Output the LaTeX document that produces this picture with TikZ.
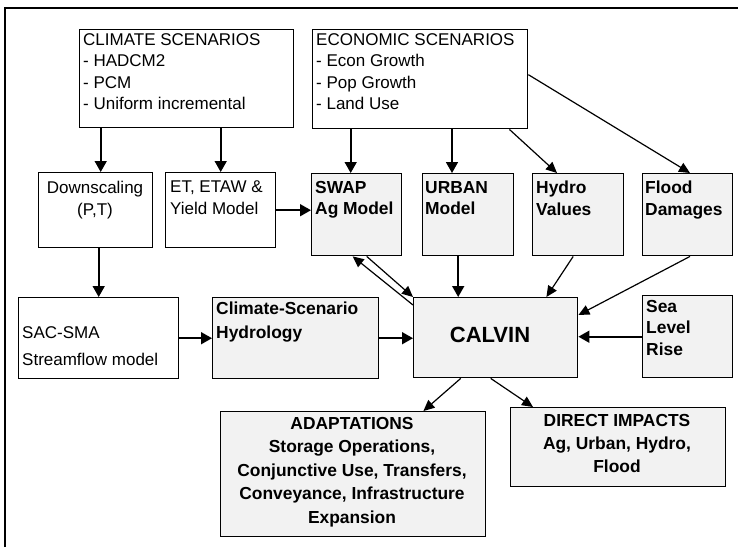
\documentclass[tikz,border=0pt]{standalone}
\usepackage{fontspec}
\setmainfont{Liberation Sans}
\usetikzlibrary{arrows.meta}
\begin{document}
\begin{tikzpicture}[x=1pt,y=-1pt,every node/.style={font=\fontsize{17}{21.5}\selectfont},
  box/.style={draw,line width=1.4pt,anchor=north west,inner sep=0pt},
  boldbox/.style={box,fill=black!5},
  txt/.style={anchor=north west,inner sep=0pt,align=left},
  btxt/.style={txt,font=\fontsize{17.4}{21.5}\selectfont\bfseries},
  arr/.style={-{Triangle[length=11pt,width=12pt]},line width=1.6pt},
  darr/.style={-{Triangle[length=11pt,width=10pt]},line width=1.2pt}]
\useasboundingbox (0,0) rectangle (738,547);
\draw[line width=2pt] (5,547) -- (5,8) -- (738,8);
% boxes
\node[box,minimum width=214,minimum height=98] (climate) at (79,29) {};
\node[box,minimum width=215,minimum height=99] (econ) at (312,29) {};
\node[box,minimum width=114,minimum height=75] (down) at (38,172) {};
\node[box,minimum width=110,minimum height=75] (etaw) at (165,172) {};
\node[boldbox,minimum width=90,minimum height=82] (swap) at (311,173) {};
\node[boldbox,minimum width=91,minimum height=82] (urban) at (422,173) {};
\node[boldbox,minimum width=91,minimum height=82] (hydro) at (532,173) {};
\node[boldbox,minimum width=90,minimum height=82] (flood) at (642,173) {};
\node[box,minimum width=160,minimum height=81] (sacsma) at (18,297) {};
\node[boldbox,minimum width=166,minimum height=81] (hydrol) at (212,297) {};
\node[boldbox,minimum width=164,minimum height=80] (calvin) at (413,297) {};
\node[boldbox,minimum width=90,minimum height=82] (sea) at (642,295) {};
\node[boldbox,minimum width=265,minimum height=125] (adapt) at (220,411) {};
\node[boldbox,minimum width=215,minimum height=79] (direct) at (510,407) {};
% texts
\node[txt] (climatetxt) at (83,33) {CLIMATE SCENARIOS\\- HADCM2\\- PCM\\- Uniform incremental};
\node[txt] (econtxt) at (316,33) {ECONOMIC SCENARIOS\\- Econ Growth\\- Pop Growth\\- Land Use};
\node[txt,anchor=north,align=center] (downtxt) at (95,181) {Downscaling\\(P,T)};
\node[txt] (etawtxt) at (170,181) {ET, ETAW \&\\Yield Model};
\node[btxt] (swaptxt) at (315,181) {SWAP\\Ag Model};
\node[btxt] (urbantxt) at (425,181) {URBAN\\Model};
\node[btxt] (hydrotxt) at (536,181) {Hydro\\Values};
\node[btxt] (floodtxt) at (645,181) {Flood\\Damages};
\node[txt] (sacsmatxt) at (22,326) {SAC-SMA\\[6pt]Streamflow model};
\node[btxt] (hydroltxt) at (216,302) {Climate-Scenario\\[2pt]Hydrology};
\node[font=\fontsize{22}{26}\selectfont\bfseries,inner sep=0pt] (calvintxt) at (490,335) {CALVIN};
\node[btxt] (seatxt) at (646,300) {Sea\\Level\\Rise};
\node[btxt,anchor=north,align=center,font=\fontsize{17.4}{23.5}\selectfont\bfseries] (adapttxt) at (352,417) {ADAPTATIONS\\Storage Operations,\\Conjunctive Use, Transfers,\\Conveyance, Infrastructure\\Expansion};
\node[btxt,anchor=north,align=center,font=\fontsize{17.4}{23}\selectfont\bfseries] (directtxt) at (617,414) {DIRECT IMPACTS\\Ag, Urban, Hydro,\\Flood};
% arrows
\draw[arr] ([xshift=5pt]down.north |- climate.south) -- ([xshift=5pt]down.north);
\draw[arr] (etaw.north |- climate.south) -- (etaw.north);
\draw[arr] ([xshift=-6pt]swap.north |- econ.south) -- ([xshift=-6pt]swap.north);
\draw[arr] ([xshift=30pt]urban.north west |- econ.south) -- ([xshift=30pt]urban.north west);
\draw[darr] ([xshift=-19pt]econ.south east) -- ([xshift=25pt]hydro.north west);
\draw[darr] ([yshift=4.5pt]econ.east) -- ([xshift=48pt]flood.north west);
\draw[arr] ([xshift=3pt]down.south) -- ([xshift=3pt]down.south |- sacsma.north);
\draw[arr] (etaw.east) -- (etaw.east -| swap.west);
\draw[arr] (sacsma.east) -- (hydrol.west);
\draw[arr] (hydrol.east) -- (hydrol.east -| calvin.west);
\draw[arr] (sea.west) -- (sea.west -| calvin.east);
\draw[arr] ([xshift=-10pt]urban.south) -- ([xshift=-10pt]urban.south |- calvin.north);
\draw[darr] ([xshift=-5pt]hydro.south) -- ([xshift=-32pt]calvin.north east);
\draw[darr] ([xshift=48pt]flood.south west) -- ([yshift=-18pt]calvin.north east);
\draw[darr] ([yshift=-8pt]calvin.north west) -- ([xshift=-4pt]swap.south);
\draw[darr] ([xshift=10pt]swap.south) -- (calvin.north west);
\draw[darr] ([xshift=-35pt]calvin.south) -- ([xshift=-63pt]adapt.north east);
\draw[darr] ([xshift=-5pt]calvin.south) -- ([xshift=23pt]direct.north west);
\end{tikzpicture}
\end{document}
